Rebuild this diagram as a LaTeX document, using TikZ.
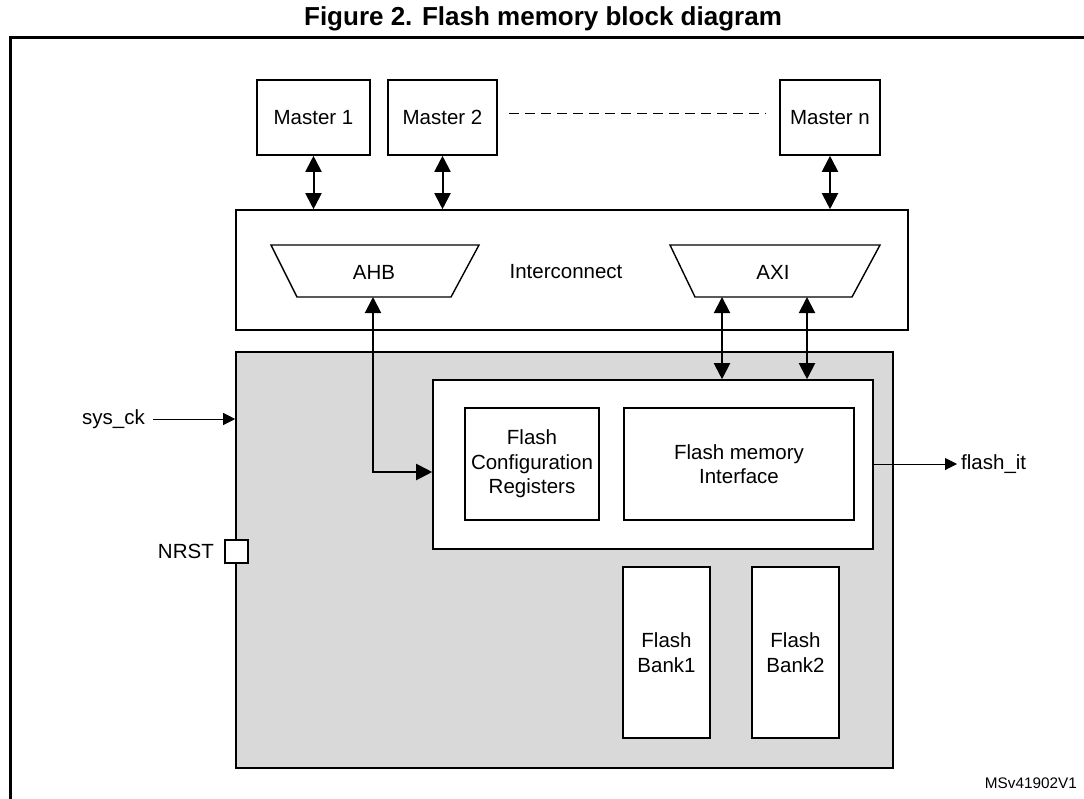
\documentclass[tikz,border=0pt]{standalone}
\usepackage{fontspec}
\setmainfont{Liberation Sans}
\usetikzlibrary{arrows.meta,calc}
\definecolor{panelgray}{RGB}{217,217,217}
\begin{document}
\begin{tikzpicture}[x=1pt,y=-1pt,
  txt/.style={font=\fontsize{20.5}{24.6}\selectfont},
  box/.style={draw,line width=1.6pt,inner sep=0pt,align=center,txt},
  lbl/.style={inner sep=0pt,txt},
  dbl/.style={line width=2pt,{Triangle[length=16pt,width=16pt]}-{Triangle[length=16pt,width=16pt]}},
  sig/.style={line width=1pt,-{Triangle[length=12pt,width=12pt]}},
  trap/.style={draw,line width=1.4pt},
  dsh/.style={line width=1pt,dash pattern=on 10pt off 6pt}]
\useasboundingbox (0,0) rectangle (1084,798);

% title and frame
\node[inner sep=0pt,font=\bfseries\fontsize{26}{30}\selectfont] (title) at (543,19) {Figure 2. Flash memory block diagram};
\draw[line width=3pt] (10,800) -- (10,37) -- (1086,37);

% masters
\node[box,minimum width=113pt,minimum height=75pt] (m1) at (313.5,117.5) {Master 1};
\node[box,minimum width=109pt,minimum height=75pt] (m2) at (442.5,117.5) {Master 2};
\node[box,minimum width=100pt,minimum height=75pt] (mn) at (830,117.5) {Master n};
\draw[dsh] ([xshift=11pt,yshift=4.5pt]m2.east) -- ([xshift=-13pt,yshift=4.5pt]mn.west);

% interconnect
\node[box,minimum width=672pt,minimum height=120pt] (ic) at (572,270) {};
\node[lbl] (ictext) at (566,272) {Interconnect};
\draw[trap] (271,245) -- (479,245) -- (451,297) -- (297,297) -- cycle;
\node[lbl] (ahb) at (374,272) {AHB};
\draw[trap] (670,245) -- (880,245) -- (852,297) -- (695,297) -- cycle;
\node[lbl] (axi) at (773,272) {AXI};
\coordinate (ahbB) at (373,297);
\coordinate (axiB1) at (722,297);
\coordinate (axiB2) at (807,297);

\draw[dbl] (m1.south) -- (m1.south |- ic.north);
\draw[dbl] (m2.south) -- (m2.south |- ic.north);
\draw[dbl] (mn.south) -- (mn.south |- ic.north);

% flash block
\node[box,fill=panelgray,minimum width=657pt,minimum height=416pt] (gray) at (564.5,560) {};
\node[box,fill=white,minimum width=440pt,minimum height=169pt] (ifbox) at (653,464.5) {};
\node[box,minimum width=134pt,minimum height=112pt] (cfg) at (532,464) {Flash\\Configuration\\Registers};
\node[box,minimum width=230pt,minimum height=112pt] (fmi) at (739,464) {Flash memory\\Interface};
\node[box,fill=white,minimum width=87pt,minimum height=171pt] (b1) at (666.5,652.5) {Flash\\Bank1};
\node[box,fill=white,minimum width=87pt,minimum height=171pt] (b2) at (795.5,652.5) {Flash\\Bank2};

\draw[dbl] (ahbB) |- ([yshift=-7.5pt]ifbox.west);
\draw[dbl] (axiB1) -- (axiB1 |- ifbox.north);
\draw[dbl] (axiB2) -- (axiB2 |- ifbox.north);

% side signals
\node[lbl,anchor=east] (sysck) at (145,419) {sys\_ck};
\draw[sig] ([xshift=8pt]sysck.east) -- (sysck.east -| gray.west);
\node[lbl,anchor=east] (nrst) at (214,551) {NRST};
\node[draw,fill=white,line width=1.2pt,minimum size=23pt,inner sep=0pt] (nsq) at (236.5,551.5) {};
\node[lbl,anchor=west] (fit) at (961,464) {flash\_it};
\draw[sig] (ifbox.east |- fit.west) -- ([xshift=-4pt]fit.west);

\node[inner sep=0pt,anchor=east,font=\fontsize{15.3}{18}\selectfont] (ref) at (1077,783) {MSv41902V1};
\end{tikzpicture}
\end{document}
